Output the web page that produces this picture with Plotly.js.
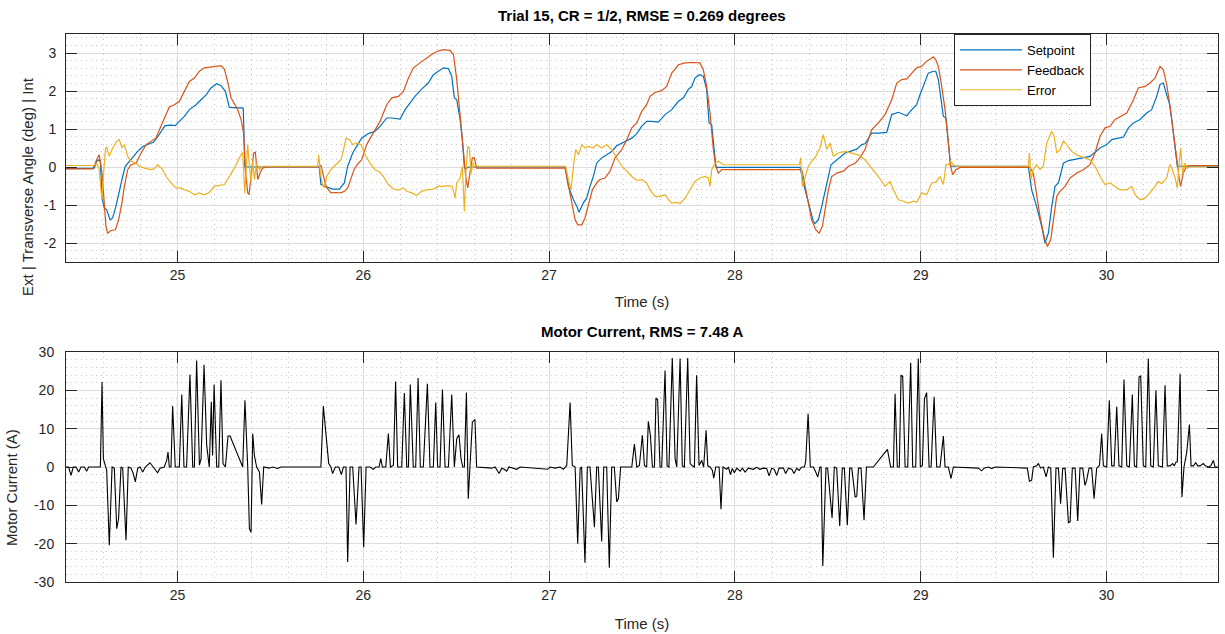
<!DOCTYPE html>
<html>
<head>
<meta charset="utf-8">
<script src="https://cdn.plot.ly/plotly-3.0.1.min.js"></script>
<style>html,body{margin:0;padding:0;background:#fff;}#chart{width:1225px;height:634px;}</style>
</head>
<body>
<div id="chart"></div>
<script>
// ---- data: [time (s), value] pairs ----
const setpoint = [
[24.400,-0.04],[24.552,-0.03],[24.565,0.15],[24.576,0.19],[24.585,0.15],[24.594,-0.82],[24.606,-1.08],[24.619,-1.12],[24.637,-1.39],[24.651,-1.34],[24.669,-1.03],[24.687,-0.60],[24.705,-0.25],[24.719,0.02],[24.741,0.15],[24.759,0.24],[24.786,0.41],[24.813,0.54],[24.840,0.60],[24.870,0.65],[24.893,0.79],[24.911,0.94],[24.933,1.09],[24.965,1.10],[24.988,1.09],[25.010,1.20],[25.037,1.33],[25.064,1.51],[25.100,1.64],[25.127,1.77],[25.154,1.90],[25.180,2.08],[25.211,2.19],[25.234,2.14],[25.258,1.99],[25.279,1.57],[25.354,1.55],[25.363,0.00],[25.763,0.00],[25.772,-0.46],[25.790,-0.50],[25.835,-0.58],[25.871,-0.58],[25.898,-0.42],[25.916,0.02],[25.943,0.37],[25.970,0.59],
[25.991,0.76],[26.027,0.88],[26.063,0.94],[26.090,1.07],[26.126,1.29],[26.153,1.29],[26.198,1.26],[26.225,1.51],[26.252,1.68],[26.278,1.86],[26.314,2.05],[26.350,2.21],[26.377,2.43],[26.404,2.52],[26.431,2.61],[26.458,2.59],[26.476,2.39],[26.490,1.82],[26.503,1.77],[26.521,1.25],[26.533,0.72],[26.544,0.00],[26.551,-0.05],[26.565,0.00],[27.086,0.00],[27.104,-0.51],[27.131,-0.86],[27.149,-1.03],[27.161,-1.19],[27.184,-0.95],[27.202,-0.82],[27.220,-0.51],[27.238,-0.25],[27.256,0.10],[27.283,0.24],[27.310,0.32],[27.337,0.41],[27.364,0.56],[27.391,0.63],[27.418,0.68],[27.445,0.76],[27.472,0.88],[27.498,1.07],[27.525,1.20],
[27.552,1.20],[27.588,1.18],[27.624,1.38],[27.660,1.51],[27.696,1.73],[27.723,1.82],[27.750,2.05],[27.767,2.11],[27.785,2.34],[27.809,2.43],[27.830,2.39],[27.848,2.04],[27.861,1.16],[27.875,1.11],[27.888,0.37],[27.897,0.04],[27.902,-0.01],[28.351,-0.01],[28.368,-0.42],[28.386,-0.77],[28.404,-1.12],[28.422,-1.43],[28.431,-1.49],[28.449,-1.39],[28.467,-1.04],[28.485,-0.68],[28.503,-0.25],[28.517,0.06],[28.539,0.15],[28.566,0.28],[28.593,0.37],[28.620,0.41],[28.656,0.47],[28.682,0.59],[28.700,0.61],[28.736,0.89],[28.772,0.89],[28.817,0.91],[28.844,1.38],[28.880,1.44],[28.925,1.35],[28.952,1.51],[28.978,1.64],[28.996,1.90],[29.014,2.12],[29.041,2.47],[29.068,2.52],
[29.081,2.52],[29.095,2.30],[29.122,1.33],[29.136,1.29],[29.149,0.54],[29.161,0.02],[29.579,0.02],[29.597,-0.60],[29.624,-1.04],[29.651,-1.56],[29.669,-2.00],[29.687,-1.74],[29.705,-1.04],[29.723,-0.51],[29.741,-0.42],[29.768,0.10],[29.795,0.17],[29.840,0.21],[29.884,0.24],[29.911,0.28],[29.938,0.39],[29.965,0.50],[30.001,0.59],[30.028,0.72],[30.064,0.76],[30.091,0.79],[30.118,1.03],[30.145,1.16],[30.181,1.25],[30.216,1.42],[30.243,1.51],[30.270,1.86],[30.288,2.17],[30.306,2.21],[30.324,1.90],[30.338,1.68],[30.351,1.25],[30.363,0.81],[30.374,0.28],[30.381,0.02],[30.640,0.02]
];

const feedback = [
[24.400,-0.05],[24.544,-0.05],[24.570,0.24],[24.579,0.32],[24.594,-0.16],[24.606,-1.04],[24.615,-1.56],[24.624,-1.74],[24.642,-1.67],[24.666,-1.65],[24.683,-1.39],[24.701,-0.95],[24.714,-0.51],[24.732,-0.07],[24.750,0.06],[24.777,0.10],[24.804,0.37],[24.831,0.59],[24.857,0.68],[24.884,0.76],[24.911,1.07],[24.938,1.38],[24.956,1.58],[24.983,1.64],[25.010,1.73],[25.037,1.99],[25.064,2.25],[25.091,2.34],[25.118,2.52],[25.145,2.61],[25.171,2.63],[25.198,2.65],[25.234,2.67],[25.252,2.58],[25.270,2.25],[25.288,1.82],[25.306,1.68],[25.324,1.51],[25.342,1.25],[25.356,0.89],[25.365,-0.07],[25.378,-0.68],[25.385,-0.73],[25.396,-0.16],[25.410,0.37],[25.419,0.39],[25.432,-0.33],[25.444,-0.16],[25.458,-0.03],[25.476,0.00],[25.763,0.00],[25.772,0.05],[25.781,-0.16],[25.799,-0.51],[25.826,-0.68],[25.853,-0.67],[25.880,-0.68],[25.898,-0.64],[25.916,-0.55],[25.934,-0.30],[25.952,-0.05],
[25.970,0.08],[25.991,0.19],[26.018,0.59],[26.054,0.89],[26.090,1.20],[26.126,1.64],[26.153,1.82],[26.189,1.86],[26.216,1.99],[26.243,2.34],[26.270,2.61],[26.305,2.74],[26.341,2.87],[26.368,2.96],[26.395,3.04],[26.431,3.09],[26.467,3.07],[26.485,2.96],[26.503,2.30],[26.521,1.42],[26.535,0.63],[26.551,-0.25],[26.562,-0.55],[26.574,-0.16],[26.587,0.24],[26.598,0.24],[26.610,-0.03],[27.086,-0.03],[27.095,-0.25],[27.122,-0.95],[27.140,-1.39],[27.154,-1.52],[27.176,-1.52],[27.193,-1.34],[27.211,-0.99],[27.233,-0.60],[27.256,-0.42],[27.274,-0.33],[27.301,-0.29],[27.328,-0.11],[27.355,0.24],[27.391,0.46],[27.418,0.72],[27.445,1.03],[27.472,1.16],[27.498,1.46],[27.525,1.64],
[27.543,1.86],[27.570,1.96],[27.606,2.01],[27.633,2.12],[27.660,2.47],[27.696,2.69],[27.732,2.74],[27.776,2.75],[27.812,2.74],[27.830,2.56],[27.848,2.12],[27.866,1.42],[27.884,0.46],[27.897,0.02],[27.911,-0.16],[27.929,-0.07],[28.359,-0.07],[28.368,-0.25],[28.395,-0.95],[28.413,-1.39],[28.435,-1.65],[28.453,-1.74],[28.471,-1.56],[28.485,-1.12],[28.503,-0.60],[28.521,-0.25],[28.548,-0.16],[28.584,-0.11],[28.611,0.02],[28.647,0.10],[28.673,0.24],[28.700,0.46],[28.736,0.98],[28.772,1.16],[28.808,1.38],[28.844,1.77],[28.871,2.21],[28.898,2.30],[28.925,2.32],[28.952,2.47],[28.978,2.61],[29.005,2.65],[29.032,2.78],[29.059,2.87],[29.068,2.90],
[29.081,2.82],[29.095,2.65],[29.113,2.12],[29.131,1.51],[29.149,0.63],[29.161,0.02],[29.172,-0.20],[29.190,-0.07],[29.212,-0.01],[29.588,-0.01],[29.606,-0.16],[29.624,-0.77],[29.642,-1.30],[29.666,-1.87],[29.682,-2.09],[29.700,-1.91],[29.718,-1.30],[29.732,-0.77],[29.750,-0.64],[29.777,-0.51],[29.804,-0.29],[29.840,-0.16],[29.875,-0.07],[29.911,0.06],[29.938,0.37],[29.965,0.81],[29.992,1.03],[30.019,1.07],[30.046,1.25],[30.073,1.33],[30.109,1.42],[30.145,1.77],[30.171,2.08],[30.207,2.12],[30.234,2.21],[30.261,2.34],[30.288,2.65],[30.306,2.56],[30.324,2.17],[30.342,1.60],[30.363,0.81],[30.378,0.10],[30.392,-0.33],[30.399,-0.51],[30.413,-0.16],[30.431,0.02],[30.449,0.04],[30.640,0.04]
];

const errorSig = [
[24.400,0.04],[24.552,0.04],[24.565,0.10],[24.579,-0.07],[24.588,-0.60],[24.594,-0.86],[24.601,-0.25],[24.612,0.46],[24.619,0.53],[24.633,0.28],[24.651,0.50],[24.673,0.68],[24.687,0.72],[24.701,0.50],[24.714,0.59],[24.732,0.28],[24.750,0.15],[24.777,0.10],[24.795,0.02],[24.822,-0.03],[24.857,-0.07],[24.875,-0.05],[24.893,0.06],[24.920,-0.07],[24.938,-0.25],[24.965,-0.42],[24.992,-0.55],[25.019,-0.55],[25.037,-0.60],[25.064,-0.64],[25.091,-0.73],[25.118,-0.68],[25.145,-0.73],[25.171,-0.67],[25.198,-0.51],[25.225,-0.49],[25.252,-0.46],[25.279,-0.25],[25.306,-0.03],[25.333,0.24],[25.351,0.39],[25.362,-0.68],[25.369,-0.07],[25.378,0.59],[25.387,0.02],[25.396,-0.42],[25.405,0.15],[25.414,-0.33],[25.426,0.10],[25.441,-0.07],[25.458,0.02],[25.754,0.02],[25.760,0.32],[25.767,-0.07],[25.778,-0.42],[25.790,-0.55],[25.803,-0.25],[25.826,-0.07],[25.844,0.02],[25.862,0.10],[25.880,0.19],[25.894,0.46],[25.907,0.76],[25.925,0.72],[25.943,0.59],[25.961,0.63],
[25.988,0.59],[26.009,0.33],[26.036,0.10],[26.063,-0.07],[26.090,-0.14],[26.108,-0.25],[26.135,-0.46],[26.162,-0.58],[26.189,-0.61],[26.216,-0.55],[26.234,-0.64],[26.261,-0.68],[26.287,-0.75],[26.314,-0.64],[26.341,-0.60],[26.377,-0.58],[26.404,-0.51],[26.431,-0.51],[26.458,-0.49],[26.479,-0.51],[26.494,-0.82],[26.503,-0.42],[26.521,-0.29],[26.533,0.02],[26.544,-1.17],[26.553,-0.07],[26.562,0.54],[26.571,0.50],[26.580,-0.16],[26.592,0.10],[26.601,0.06],[26.616,0.02],[27.089,0.02],[27.104,-0.33],[27.118,-0.60],[27.131,0.02],[27.143,0.46],[27.158,0.32],[27.176,0.59],[27.193,0.50],[27.211,0.54],[27.238,0.50],[27.256,0.59],[27.283,0.50],[27.310,0.59],[27.337,0.46],[27.364,0.24],[27.391,0.02],[27.418,-0.11],[27.445,-0.25],[27.472,-0.35],[27.498,-0.33],[27.525,-0.42],
[27.543,-0.60],[27.570,-0.77],[27.597,-0.77],[27.624,-0.73],[27.642,-0.86],[27.660,-0.95],[27.687,-0.93],[27.705,-0.96],[27.732,-0.82],[27.758,-0.60],[27.785,-0.38],[27.812,-0.29],[27.839,-0.25],[27.857,-0.29],[27.866,-0.51],[27.875,-0.07],[27.893,0.10],[27.911,0.15],[27.938,0.06],[28.347,0.06],[28.354,0.24],[28.363,-0.51],[28.377,-0.25],[28.395,0.02],[28.413,0.15],[28.435,0.28],[28.458,0.50],[28.476,0.85],[28.494,0.46],[28.512,0.63],[28.530,0.28],[28.557,0.37],[28.593,0.41],[28.629,0.37],[28.664,0.32],[28.700,0.19],[28.736,-0.03],[28.772,-0.25],[28.808,-0.51],[28.835,-0.38],[28.853,-0.60],[28.880,-0.86],[28.907,-0.90],[28.934,-0.95],[28.961,-0.90],[28.978,-0.93],[29.005,-0.68],[29.032,-0.73],[29.059,-0.42],
[29.081,-0.40],[29.104,-0.25],[29.122,-0.46],[29.136,0.07],[29.149,0.06],[29.161,0.15],[29.176,0.06],[29.194,0.02],[29.579,0.02],[29.585,0.37],[29.594,-0.33],[29.606,-0.07],[29.624,0.06],[29.642,-0.07],[29.660,0.02],[29.678,0.63],[29.691,0.76],[29.705,0.94],[29.718,0.81],[29.732,0.37],[29.750,0.46],[29.768,0.68],[29.786,0.59],[29.813,0.41],[29.840,0.32],[29.875,0.25],[29.911,0.19],[29.938,0.02],[29.965,-0.25],[29.992,-0.46],[30.019,-0.42],[30.046,-0.51],[30.073,-0.60],[30.109,-0.60],[30.136,-0.51],[30.154,-0.73],[30.181,-0.86],[30.207,-0.82],[30.234,-0.68],[30.261,-0.51],[30.279,-0.38],[30.297,-0.44],[30.324,-0.29],[30.338,0.02],[30.345,0.06],[30.369,-0.29],[30.381,-0.55],[30.392,0.15],[30.399,0.50],[30.410,-0.16],[30.423,0.10],[30.435,-0.03],[30.449,0.00],[30.640,0.00]
];

const motorCurrent = [
[24.400,0],[24.414,0],[24.427,-2.2],[24.439,0],[24.454,0],[24.468,-1.3],[24.481,0],[24.499,0],[24.511,-1.1],[24.522,0],[24.585,0],[24.594,22.2],[24.601,2.2],[24.612,0],[24.619,-0.9],[24.633,-20.4],[24.648,0],[24.660,-0.3],[24.673,-16.1],[24.683,-13.5],[24.696,0],[24.705,-0.3],[24.723,-19.1],[24.735,0],[24.750,-0.3],[24.762,-1.7],[24.773,-3.9],[24.786,-0.3],[24.798,0],[24.813,-1.3],[24.827,0],[24.852,1.1],[24.870,0],[24.893,-1.5],[24.906,-0.3],[24.929,0],[24.942,1.7],[24.949,3.9],[24.956,0],[24.965,0],[24.974,15.9],[24.988,0],[25.010,0],[25.023,18.9],[25.035,0],[25.049,0],[25.067,24.1],[25.082,0],[25.091,0],[25.103,27.8],[25.118,0.5],[25.127,2.2],[25.143,26.7],[25.157,5.7],[25.171,0],[25.182,17.0],[25.189,3.0],[25.197,21.5],[25.211,0],[25.222,0],[25.234,22.6],[25.245,0.9],[25.258,0],[25.272,8.1],[25.283,8.1],[25.351,0],[25.363,17.4],[25.378,0],[25.387,-16.1],[25.396,-17.0],[25.405,8.7],[25.414,3.0],[25.426,0],[25.441,-1.3],[25.453,-9.8],[25.464,0],[25.494,-0.3],[25.512,0],[25.539,-0.4],[25.557,0],[25.772,0],[25.785,15.9],[25.814,0.9],[25.826,0],[25.835,-1.7],[25.850,0],[25.868,0],[25.882,-2.0],[25.893,0],[25.907,0],[25.916,-24.8],[25.929,0],[25.943,0],[25.961,-15.0],
[25.977,0],[25.988,0],[26.002,-20.9],[26.015,0],[26.036,0],[26.054,-0.6],[26.067,0],[26.085,0],[26.094,2.2],[26.103,0],[26.121,0],[26.135,8.7],[26.146,0],[26.162,0.4],[26.174,22.3],[26.185,0],[26.207,0],[26.221,19.3],[26.234,0],[26.243,0],[26.253,21.5],[26.269,0],[26.282,0],[26.295,23.2],[26.307,0],[26.323,0],[26.345,21.7],[26.359,0],[26.377,0],[26.390,16.8],[26.400,0],[26.413,0],[26.426,20.2],[26.440,0],[26.458,0],[26.476,18.9],[26.490,0],[26.503,7.4],[26.515,8.4],[26.526,2.2],[26.535,0],[26.544,0],[26.555,19.4],[26.565,-8.3],[26.574,0],[26.587,11.7],[26.601,12.4],[26.610,0],[26.691,-0.3],[26.709,0],[26.731,-1.7],[26.745,-0.3],[26.759,-0.6],[26.772,-1.1],[26.784,0],[26.826,-0.6],[26.844,0],[26.992,-0.6],[27.005,0],[27.032,-0.3],[27.059,0],[27.077,-0.6],[27.095,0.4],[27.113,16.8],[27.125,0.4],[27.140,0],[27.154,-20.0],[27.167,-0.4],[27.175,0],[27.193,-25.0],[27.206,0],[27.220,0],[27.244,-15.7],[27.256,0],[27.265,0],[27.283,-19.4],[27.294,0],[27.310,0],[27.324,-26.3],[27.337,0],[27.351,0],[27.364,-9.1],[27.373,-8.3],[27.385,0],[27.445,0],[27.459,6.0],[27.472,0],[27.486,0.4],[27.502,8.3],[27.513,0.4],[27.525,0],
[27.534,11.9],[27.545,8.3],[27.556,0],[27.567,0],[27.575,18.0],[27.584,17.6],[27.597,0],[27.606,0],[27.624,25.2],[27.635,0.3],[27.645,0],[27.663,28.4],[27.678,2.2],[27.687,0],[27.705,28.3],[27.717,0.3],[27.728,0],[27.746,28.4],[27.759,0.9],[27.771,0.3],[27.782,0],[27.794,23.9],[27.807,0.4],[27.821,1.7],[27.832,0],[27.845,9.6],[27.854,0.3],[27.866,0],[27.879,-0.9],[27.886,-2.9],[27.897,0],[27.915,0],[27.925,-11.0],[27.936,0],[27.947,-0.3],[27.956,-0.6],[27.965,0],[27.976,-2.0],[27.986,-0.4],[27.997,-1.5],[28.010,-0.3],[28.028,-1.1],[28.040,-0.3],[28.055,-1.3],[28.072,-0.3],[28.099,-0.6],[28.117,-0.1],[28.135,-0.6],[28.153,-0.3],[28.171,-0.4],[28.184,-2.3],[28.198,-0.3],[28.212,-0.6],[28.225,-2.2],[28.238,-0.3],[28.252,-0.4],[28.261,-0.3],[28.273,-1.7],[28.288,-0.3],[28.306,-0.6],[28.318,-1.7],[28.333,-0.3],[28.345,-0.9],[28.360,0],[28.374,0],[28.381,1.5],[28.394,13.9],[28.406,0],[28.422,0],[28.435,-1.3],[28.446,-2.6],[28.458,0],[28.464,0],[28.473,-25.8],[28.490,-0.3],[28.499,-0.3],[28.523,-13.3],[28.535,0],[28.548,-0.3],[28.564,-15.4],[28.578,-0.3],[28.589,-0.3],[28.605,-15.2],[28.618,-0.3],[28.629,-0.3],[28.647,-7.8],[28.656,-7.6],[28.665,-0.3],[28.679,-0.3],[28.695,-13.9],[28.708,0],[28.745,0],[28.821,4.6],[28.838,0],[28.853,0],[28.862,19.1],[28.874,0],[28.885,0],[28.894,23.9],[28.903,23.7],[28.916,0],[28.930,0],[28.946,27.2],[28.957,0],[28.973,0],[28.987,28.3],[28.998,0],[29.009,0.4],[29.020,17.8],[29.032,19.4],[29.045,0],[29.056,0],
[29.072,18.3],[29.086,0],[29.104,0],[29.122,8.1],[29.131,0],[29.149,0],[29.163,-3.0],[29.176,0],[29.310,-0.3],[29.328,-1.0],[29.341,-0.3],[29.364,0],[29.382,-0.4],[29.400,0],[29.574,-0.3],[29.585,-3.7],[29.597,-3.5],[29.606,0],[29.624,0.3],[29.633,0.9],[29.646,-0.3],[29.660,0],[29.675,-2.6],[29.687,0],[29.700,-0.3],[29.714,-23.7],[29.728,-0.3],[29.741,-0.3],[29.753,-9.6],[29.764,-0.4],[29.777,-0.3],[29.795,-14.5],[29.804,-14.3],[29.816,-0.3],[29.831,-0.3],[29.845,-14.1],[29.857,-0.3],[29.872,-0.3],[29.884,-4.8],[29.893,-3.5],[29.906,-0.3],[29.920,-0.3],[29.933,-8.3],[29.947,-0.3],[29.962,0.4],[29.974,8.7],[29.983,0.3],[30.001,0],[30.015,17.4],[30.028,0.3],[30.041,0.3],[30.055,15.7],[30.067,0.3],[30.082,0],[30.094,22.8],[30.109,0.3],[30.123,0],[30.139,18.9],[30.150,0.3],[30.162,0],[30.175,23.5],[30.184,23.8],[30.198,0.3],[30.211,0],[30.225,28.3],[30.238,0.3],[30.252,0],[30.266,20.0],[30.279,0.3],[30.301,0],[30.315,21.3],[30.327,0.3],[30.342,0.3],[30.356,0.9],[30.365,0.3],[30.374,1.3],[30.381,1.3],[30.396,24.3],[30.406,-7.8],[30.417,0],[30.432,3.9],[30.446,11.1],[30.455,0.3],[30.468,0.3],[30.480,1.1],[30.491,0.3],[30.503,0.3],[30.521,0.9],[30.532,0.3],[30.548,0],[30.561,0.3],[30.575,1.7],[30.584,0],[30.611,0]
];

const seriesNames = ['Setpoint', 'Feedback', 'Error'];
const seriesColors = ['#0072BD', '#D95319', '#EDB120'];
const xTickVals = [25, 26, 27, 28, 29, 30];
const xTickText = ['25', '26', '27', '28', '29', '30'];
const angleTickVals = [-2, -1, 0, 1, 2, 3];
const angleTickText = ['-2', '-1', '0', '1', '2', '3'];
const currentTickVals = [-30, -20, -10, 0, 10, 20, 30];
const currentTickText = ['-30', '-20', '-10', '0', '10', '20', '30'];
const topTitle = 'Trial 15, CR = 1/2, RMSE = 0.269 degrees';
const bottomTitle = 'Motor Current, RMS = 7.48 A';
const angleLabel = 'Ext | Transverse Angle (deg) | Int';
const currentLabel = 'Motor Current (A)';
const timeLabel = 'Time (s)';

// ---- build ----
const FONT = '"Liberation Sans", Arial, Helvetica, sans-serif';
const xs = a => a.map(p => p[0]);
const ys = a => a.map(p => p[1]);

const topSeries = [setpoint, feedback, errorSig];
const traces = topSeries.map((s, i) => ({
  type: 'scatter', mode: 'lines', x: xs(s), y: ys(s),
  name: seriesNames[i], xaxis: 'x', yaxis: 'y',
  line: {color: seriesColors[i], width: 1.2},
  hoverinfo: 'skip'
}));
traces.push({
  type: 'scatter', mode: 'lines', x: xs(motorCurrent), y: ys(motorCurrent),
  name: 'Motor Current', xaxis: 'x2', yaxis: 'y2', showlegend: false,
  line: {color: '#000000', width: 1.1}, hoverinfo: 'skip'
});

function axis(extra, minorDtick) {
  return Object.assign({
    showline: true, linecolor: '#262626', linewidth: 1, mirror: 'ticks',
    ticks: 'inside', ticklen: 11, tickwidth: 1, tickcolor: '#262626',
    showgrid: true, gridcolor: '#dcdcdc', gridwidth: 1, zeroline: false,
    tickfont: {family: FONT, size: 14, color: '#262626'},
    minor: {tickmode: 'linear', tick0: 0, dtick: minorDtick, showgrid: true,
            gridcolor: '#c8c8c8', gridwidth: 1, griddash: '1px,4px', ticks: ''},
    fixedrange: true
  }, extra);
}

const xRange = [24.4, 30.6];
const layout = {
  width: 1225, height: 634,
  paper_bgcolor: '#ffffff', plot_bgcolor: '#ffffff',
  margin: {l: 66, r: 7, t: 34, b: 52},
  font: {family: FONT, size: 14, color: '#262626'},
  showlegend: true,
  legend: {
    x: 0.7708, y: 1, xanchor: 'left', yanchor: 'top',
    bgcolor: '#ffffff', bordercolor: '#262626', borderwidth: 1,
    itemwidth: 62, entrywidth: 138, entrywidthmode: 'pixels',
    font: {family: FONT, size: 13, color: '#000000'}
  },
  xaxis: axis({domain: [0, 1], anchor: 'y', range: xRange, tickmode: 'array',
    tickvals: xTickVals, ticktext: xTickText,
    title: {text: timeLabel, font: {family: FONT, size: 15, color: '#262626'}, standoff: 14}}, 0.2),
  yaxis: axis({domain: [0.5839, 1], anchor: 'x', range: [-2.5, 3.5], tickmode: 'array',
    tickvals: angleTickVals, ticktext: angleTickText, ticklabelstandoff: 6}, 0.2),
  xaxis2: axis({domain: [0, 1], anchor: 'y2', range: xRange, tickmode: 'array',
    tickvals: xTickVals, ticktext: xTickText,
    title: {text: timeLabel, font: {family: FONT, size: 15, color: '#262626'}, standoff: 16}}, 0.2),
  yaxis2: axis({domain: [0, 0.4197], anchor: 'x2', range: [-30, 30], tickmode: 'array',
    tickvals: currentTickVals, ticktext: currentTickText, ticklabelstandoff: 8}, 2),
  annotations: [
    {text: topTitle, xref: 'paper', yref: 'paper', x: 0.5, y: 1, xanchor: 'center', yanchor: 'bottom',
     yshift: 8, showarrow: false, font: {family: FONT, size: 15, color: '#000000', weight: 'bold'}},
    {text: bottomTitle, xref: 'paper', yref: 'paper', x: 0.5, y: 0.4197, xanchor: 'center', yanchor: 'bottom',
     yshift: 10, showarrow: false, font: {family: FONT, size: 15, color: '#000000', weight: 'bold'}},
    {text: angleLabel, xref: 'paper', yref: 'paper', x: -0.0339, y: 0.7226, xanchor: 'center', yanchor: 'middle',
     textangle: -90, showarrow: false, font: {family: FONT, size: 15, color: '#262626'}},
    {text: currentLabel, xref: 'paper', yref: 'paper', x: -0.0469, y: 0.1734, xanchor: 'center', yanchor: 'middle',
     textangle: -90, showarrow: false, font: {family: FONT, size: 15, color: '#262626'}}
  ]
};

Plotly.newPlot('chart', traces, layout, {displayModeBar: false, staticPlot: true});
</script>
</body>
</html>
